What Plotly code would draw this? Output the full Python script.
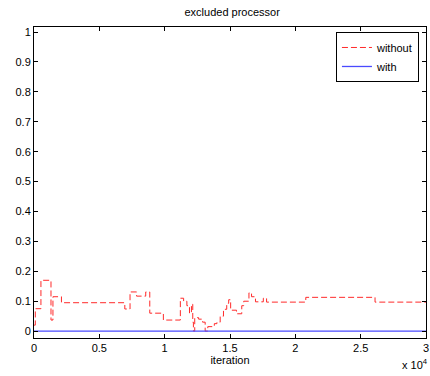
import plotly.graph_objects as go

# Data (iterations, excluded-processor fraction)
iter_without = [0, 100, 530, 1300, 1450, 2100, 6950, 7350, 7850, 8550, 8860, 9900,
                11200, 11450, 11700, 11900, 12050, 12150, 12200, 12300, 12600, 12900,
                13100, 13300, 13800, 14000, 14250, 14500, 14750, 14900, 15050, 15500,
                15900, 16050, 16450, 16650, 16950, 17550, 17800, 20800, 26100, 30000]
val_without = [0.02, 0.075, 0.17, 0.037, 0.115, 0.095, 0.074, 0.131, 0.117, 0.131, 0.06, 0.037,
               0.11, 0.1, 0.085, 0.06, 0.09, 0.03, 0.0, 0.045, 0.04, 0.03,
               0.0, 0.015, 0.025, 0.03, 0.05, 0.073, 0.093, 0.105, 0.07, 0.058,
               0.085, 0.1, 0.128, 0.115, 0.098, 0.11, 0.097, 0.113, 0.097, 0.097]

iter_with = [0, 30000]
val_with = [0.0, 0.0]

x_tickvals = [0, 5000, 10000, 15000, 20000, 25000, 30000]
x_ticktext = ["0", "0.5", "1", "1.5", "2", "2.5", "3"]
y_tickvals = [0, 0.1, 0.2, 0.3, 0.4, 0.5, 0.6, 0.7, 0.8, 0.9, 1]
y_ticktext = ["0", "0.1", "0.2", "0.3", "0.4", "0.5", "0.6", "0.7", "0.8", "0.9", "1"]

FONT = "Liberation Sans, Arial, sans-serif"

fig = go.Figure()
fig.add_trace(go.Scatter(x=iter_without, y=val_without, mode="lines", name="without",
                         line=dict(color="#ff2a2a", width=1, dash="6px,3px", shape="hv")))
fig.add_trace(go.Scatter(x=iter_with, y=val_with, mode="lines", name="with",
                         line=dict(color="#4a4aff", width=1.3)))

fig.update_layout(
    width=430, height=376,
    margin=dict(l=34, r=1, t=27, b=38),
    paper_bgcolor="white", plot_bgcolor="white",
    font=dict(family=FONT, size=11, color="black"),
    title=dict(text="excluded processor", x=0.54, xanchor="center", y=0.968, yanchor="middle",
               font=dict(family=FONT, size=11, color="black")),
    showlegend=True,
    legend=dict(x=0.982, xanchor="right", y=0.984, yanchor="top",
                bgcolor="white", bordercolor="black", borderwidth=1,
                font=dict(family=FONT, size=11, color="black"),
                tracegroupgap=0),
)
fig.update_xaxes(range=[0, 30000], tickvals=x_tickvals, ticktext=x_ticktext,
                 ticks="inside", ticklen=4, tickcolor="black", showline=True,
                 linecolor="black", linewidth=1, mirror="ticks", showgrid=False,
                 zeroline=False, ticklabeloverflow="allow",
                 title=dict(text="iteration", standoff=2,
                            font=dict(family=FONT, size=11)))
fig.update_yaxes(range=[-0.023, 1.017], tickvals=y_tickvals, ticktext=y_ticktext,
                 ticks="inside", ticklen=4, tickcolor="black", showline=True,
                 linecolor="black", linewidth=1, mirror="ticks", showgrid=False,
                 zeroline=False)
fig.add_annotation(text="x 10<sup>4</sup>", xref="paper", yref="paper",
                   x=(403 - 34) / 395, xanchor="left", y=-0.085, yanchor="middle",
                   showarrow=False, font=dict(family=FONT, size=11, color="black"))

fig.write_html("out.html")
